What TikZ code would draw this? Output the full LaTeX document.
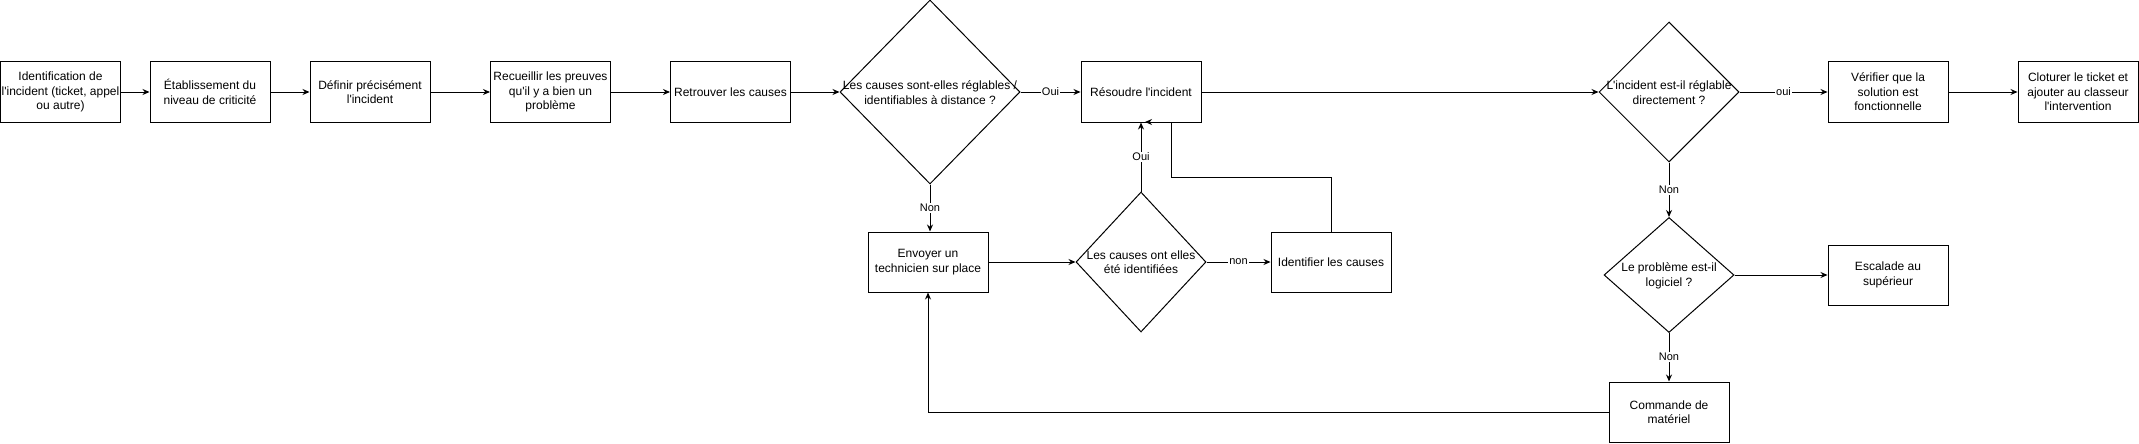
\documentclass[tikz,border=0pt]{standalone}
\usepackage{fontspec}
\setmainfont{Liberation Sans}
\usetikzlibrary{shapes.geometric,arrows.meta}
\newcommand\qs{\textquotesingle}
\begin{document}
\begin{tikzpicture}[x=1pt,y=-1pt,
  box/.style={draw, line width=1pt, minimum width=120pt, minimum height=60pt, inner sep=0pt, align=center, font=\fontsize{12}{14.5}\selectfont},
  dia/.style={draw, diamond, line width=1pt, inner sep=0pt},
  txt/.style={align=center, inner sep=0pt, font=\fontsize{12}{14.5}\selectfont},
  lbl/.style={fill=white, inner sep=1pt, font=\fontsize{11}{13}\selectfont},
  arr/.style={-{Stealth[length=7pt,width=6pt]}, line width=1pt},
  ln/.style={line width=1pt}]
\useasboundingbox (0,0) rectangle (2139,444);

% top row
\node[box] (b1) at (60.5,92) {Identification de\\l\qs incident (ticket, appel\\ou autre)};
\node[box] (b2) at (210,92) {Établissement du\\niveau de criticité};
\node[box] (b3) at (370,92) {Définir précisément\\l\qs incident};
\node[box] (b4) at (550.5,92) {Recueillir les preuves\\qu\qs il y a bien un\\problème};
\node[box] (b5) at (730.5,92) {Retrouver les causes};
\node[dia, minimum width=180pt, minimum height=184pt] (d1) at (930,92) {};
\node[txt] (d1t) at (930,92.5) {Les causes sont-elles réglables /\\identifiables à distance ?};
\node[box] (res) at (1141,92) {Résoudre l\qs incident};
\node[dia, minimum width=140pt, minimum height=140pt] (d3) at (1669,92) {};
\node[txt] (d3t) at (1669,92.5) {L\qs incident est-il réglable\\directement ?};
\node[box] (ver) at (1888,92) {Vérifier que la\\solution est\\fonctionnelle};
\node[box] (clo) at (2078,92) {Cloturer le ticket et\\ajouter au classeur\\l\qs intervention};

% middle row
\node[box] (env) at (928,262) {Envoyer un\\technicien sur place};
\node[dia, minimum width=130pt, minimum height=140pt] (d2) at (1141,262) {};
\node[txt] (d2t) at (1141,262) {Les causes ont elles\\été identifiées};
\node[box] (ident) at (1331,262) {Identifier les causes};
\node[dia, minimum width=130pt, minimum height=115pt] (d4) at (1669,275) {};
\node[txt] (d4t) at (1669,276) {Le problème est-il\\logiciel ?};
\node[box] (esc) at (1888,275) {Escalade au\\supérieur};

% bottom row
\node[box] (cmd) at (1669,412) {Commande de\\matériel};

% helper coordinates for the loop
\coordinate (l1) at (1331,177);
\coordinate (l2) at (1171,177);
\coordinate (l3) at (1171,122);
\coordinate (l4) at (1145,122);

% connectors
\draw[arr] (b1) -- (b2);
\draw[arr] (b2) -- (b3);
\draw[arr] (b3) -- (b4);
\draw[arr] (b4) -- (b5);
\draw[arr] (b5) -- (d1.west);
\draw[arr] (d1.east) -- node[lbl] (lo1) {Oui} (res.west);
\draw[arr] (d1.south) -- node[lbl] (ln1) {Non} (d1.south |- env.north);
\draw[arr] (env) -- (d2.west);
\draw[arr] (d2.north) -- node[lbl] (lo2) {Oui} (res.south);
\draw[arr] (d2.east) -- node[lbl] (ln2) {non} (ident.west);
\draw[ln] (ident.north) -- (l1) -- (l2) -- (l3);
\draw[arr] (l3) -- (l4);
\draw[arr] (res.east) -- (d3.west);
\draw[arr] (d3.east) -- node[lbl] (lo3) {oui} (ver.west);
\draw[arr] (ver) -- (clo);
\draw[arr] (d3.south) -- node[lbl] (ln3) {Non} (d4.north);
\draw[arr] (d4.east) -- (esc.west);
\draw[arr] (d4.south) -- node[lbl] (ln4) {Non} (cmd.north);
\draw[arr] (cmd.west) -| (env.south);
\end{tikzpicture}
\end{document}
